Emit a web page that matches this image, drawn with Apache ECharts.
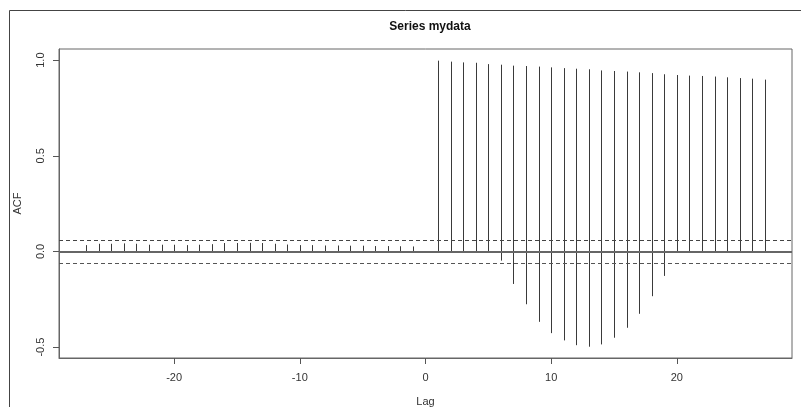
<!DOCTYPE html>
<html>
<head>
<meta charset="utf-8">
<script src="https://cdn.jsdelivr.net/npm/echarts@6/dist/echarts.min.js"></script>
<style>
html,body{margin:0;padding:0;background:#fff;}
#chart{width:801px;height:407px;}
</style>
</head>
<body>
<div id="chart"></div>
<script>
// ---- data ----
const titleText = 'Series mydata';
const xName = 'Lag';
const yName = 'ACF';

const lagsLeft = [-27,-26,-25,-24,-23,-22,-21,-20,-19,-18,-17,-16,-15,-14,-13,-12,-11,-10,-9,-8,-7,-6,-5,-4,-3,-2,-1];
const acfLeft  = [0.033,0.040,0.040,0.042,0.040,0.035,0.035,0.035,0.033,0.035,0.038,0.044,0.044,0.045,0.044,0.040,0.036,0.033,0.033,0.031,0.031,0.030,0.030,0.028,0.028,0.027,0.026];

const lagsRight = [1,2,3,4,5,6,7,8,9,10,11,12,13,14,15,16,17,18,19,20,21,22,23,24,25,26,27];
const acfRight  = [0.997,0.992,0.988,0.986,0.979,0.976,0.971,0.969,0.966,0.962,0.958,0.955,0.952,0.946,0.943,0.940,0.936,0.932,0.926,0.922,0.919,0.917,0.914,0.910,0.906,0.903,0.898];

const lagsDip = [6,7,8,9,10,11,12,13,14,15,16,17,18,19];
const acfDip  = [-0.048,-0.170,-0.276,-0.368,-0.427,-0.465,-0.490,-0.498,-0.486,-0.451,-0.399,-0.326,-0.234,-0.128];

const ciBound = 0.057;
const xTicks = [-20,-10,0,10,20];
const yTicks = [-0.5,0.0,0.5,1.0];
const xRange = [-29.16, 29.16];
const yRange = [-0.557, 1.058];

// ---- chart ----
const chart = echarts.init(document.getElementById('chart'), null, {renderer:'canvas'});
const FONT = 'Liberation Sans, Arial, sans-serif';

function stems(name, lags, vals) {
  return {
    name: name,
    type: 'custom',
    data: lags.map((l, i) => [l, vals[i]]),
    silent: true,
    renderItem: function (params, api) {
      const p0 = api.coord([api.value(0), 0]);
      const p1 = api.coord([api.value(0), api.value(1)]);
      const x = Math.round(p0[0]) + 0.5;
      return {
        type: 'line',
        shape: {x1: x, y1: p0[1], x2: x, y2: p1[1]},
        style: {stroke: '#3a3a3a', lineWidth: 1}
      };
    }
  };
}

const sLeft = stems('left', lagsLeft, acfLeft);
const sRight = stems('right', lagsRight, acfRight);
const sDip = stems('dip', lagsDip, acfDip);
sRight.markLine = {
  silent: true,
  symbol: ['none','none'],
  label: {show: false},
  animation: false,
  data: [
    {yAxis: 0, lineStyle: {color: '#666', width: 2, type: 'solid'}},
    {yAxis: ciBound, lineStyle: {color: '#444', width: 1, type: [4,3]}},
    {yAxis: -ciBound, lineStyle: {color: '#555', width: 1, type: [4,3]}}
  ]
};

const option = {
  backgroundColor: '#fff',
  animation: false,
  title: {
    text: titleText,
    left: 425, top: 16, textAlign: 'center',
    textStyle: {fontFamily: FONT, fontSize: 12, fontWeight: 'bold', color: '#111'}
  },
  graphic: [{
    type: 'rect',
    shape: {x: 9.5, y: 10.5, width: 820, height: 420},
    style: {fill: 'none', stroke: '#444', lineWidth: 1},
    silent: true
  }],
  grid: {left: 59, right: 9, top: 49, bottom: 49, outerBoundsMode: 'none', containLabel: false,
    show: true, borderColor: '#666', borderWidth: 1, backgroundColor: 'transparent'},
  xAxis: {
    type: 'value', min: xRange[0], max: xRange[1],
    name: xName, nameLocation: 'middle', nameGap: 38,
    nameTextStyle: {fontFamily: FONT, fontSize: 11, color: '#333'},
    axisLine: {show: true, onZero: false, lineStyle: {color: '#666'}},
    axisTick: {show: true, length: 6, lineStyle: {color: '#555'}, customValues: xTicks},
    axisLabel: {fontFamily: FONT, fontSize: 11, color: '#333', margin: 14, customValues: xTicks,
      formatter: v => String(v)},
    splitLine: {show: false}
  },
  yAxis: {
    type: 'value', min: yRange[0], max: yRange[1],
    name: yName, nameLocation: 'middle', nameGap: 36, nameRotate: 90,
    nameTextStyle: {fontFamily: FONT, fontSize: 11, color: '#333'},
    axisLine: {show: true, onZero: false, lineStyle: {color: '#666'}},
    axisTick: {show: true, length: 6, lineStyle: {color: '#555'}, customValues: yTicks},
    axisLabel: {fontFamily: FONT, fontSize: 11, color: '#333', margin: 13, rotate: 90, customValues: yTicks,
      formatter: v => v.toFixed(1)},
    splitLine: {show: false}
  },
  series: [sLeft, sRight, sDip]
};
chart.setOption(option);
</script>
</body>
</html>
